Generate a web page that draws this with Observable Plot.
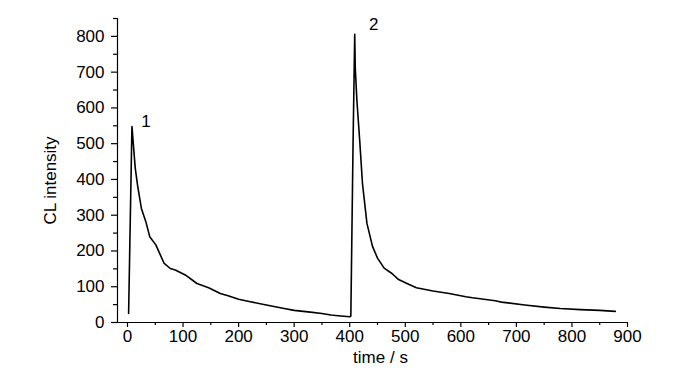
<!DOCTYPE html>
<html>
<head>
<meta charset="utf-8">
<script src="https://cdn.jsdelivr.net/npm/d3@7"></script>
<script src="https://cdn.jsdelivr.net/npm/@observablehq/plot@0.6"></script>
<style>
  html, body { margin: 0; padding: 0; background: #fff; }
  #chart svg { display: block; }
</style>
</head>
<body>
<div id="chart"></div>
<script>
// Time (s) of each sampled point of the CL trace
const time = [2, 8, 14, 18, 25, 33, 40, 51, 66, 77, 86, 104, 125, 146, 167, 181, 200, 221, 250, 282, 300, 329, 350, 366, 379, 400,
  402, 406, 409, 410, 413, 418, 423, 431, 441, 450, 462, 476, 488, 503, 520, 550, 579, 609, 621, 662, 673, 715, 750, 779, 815, 850, 878];
// CL intensity at each time
const intensity = [25, 548, 431, 385, 319, 282, 240, 217, 165, 151, 147, 133, 109, 97, 81, 75, 65, 58, 49, 39, 34, 29, 25, 21, 19, 16,
  18, 500, 806, 711, 619, 508, 388, 277, 213, 180, 152, 137, 120, 109, 97, 88, 81, 72, 69, 61, 57, 49, 43, 39, 36, 34, 31];
// Peak labels
const peakNames = ["1", "2"];
// Axes
const xDomain = [-18, 900];
const yDomain = [0, 850];
const xMajor = d3.range(0, 901, 100);
const xMinor = d3.range(50, 900, 100);
const yMajor = d3.range(0, 801, 100);
const yMinor = d3.range(50, 851, 100);
const xLabel = "time / s";
const yLabel = "CL intensity";

const data = time.map((t, i) => ({t, v: intensity[i]}));
const p1 = d3.greatest(data.filter(d => d.t < 400), d => d.v);
const p2 = d3.greatest(data.filter(d => d.t >= 400), d => d.v);

const chart = Plot.plot({
  width: 700,
  height: 373,
  marginLeft: 117,
  marginRight: 73,
  marginTop: 18,
  marginBottom: 51,
  style: {fontFamily: "'Liberation Sans', Arial, sans-serif", fontSize: "17px", color: "#000", background: "#fff"},
  x: {domain: xDomain},
  y: {domain: yDomain},
  marks: [
    Plot.ruleX([xDomain[0]], {stroke: "#000", strokeWidth: 1.2}),
    Plot.ruleY([yDomain[0]], {stroke: "#000", strokeWidth: 1.2}),
    Plot.axisX(xMajor, {tickSize: 5, tickPadding: 2, label: null, strokeWidth: 1.2}),
    Plot.axisX(xMinor, {tickSize: 3, text: null, label: null, strokeWidth: 1.2}),
    Plot.axisY(yMajor, {tickSize: 6, tickPadding: 7, label: null, strokeWidth: 1.2}),
    Plot.axisY(yMinor, {tickSize: 4, text: null, label: null, strokeWidth: 1.2}),
    Plot.text([xLabel], {frameAnchor: "bottom", lineAnchor: "top", dx: 8, dy: 28, fontSize: 17}),
    Plot.text([yLabel], {frameAnchor: "left", rotate: -90, textAnchor: "middle", lineAnchor: "middle", dx: -67, dy: 10, fontSize: 17}),
    Plot.line(data, {x: "t", y: "v", stroke: "#000", strokeWidth: 1.6}),
    Plot.text([p1], {x: "t", y: "v", text: () => peakNames[0], dx: 14, dy: -5, fontSize: 17}),
    Plot.text([p2], {x: "t", y: "v", text: () => peakNames[1], dx: 19, dy: -10, fontSize: 17})
  ]
});
document.getElementById("chart").appendChild(chart);
</script>
</body>
</html>
